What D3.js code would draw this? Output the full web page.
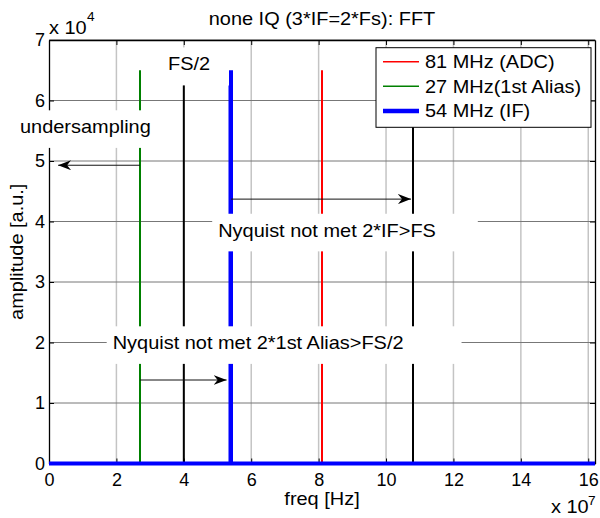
<!DOCTYPE html>
<html>
<head>
<meta charset="utf-8">
<script src="https://cdn.jsdelivr.net/npm/d3@7"></script>
<style>
  body { margin: 0; background: #fff; }
  svg { display: block; }
  text { font-family: "Liberation Sans", Arial, Helvetica, sans-serif; fill: #000; }
</style>
</head>
<body>
<div id="chart"></div>
<script>
// none IQ (3*IF=2*Fs): FFT

// axis ticks
const xTicks = [0, 2e7, 4e7, 6e7, 8e7, 10e7, 12e7, 14e7, 16e7];
const xTickLabels = ["0", "2", "4", "6", "8", "10", "12", "14", "16"];
const yTicks = [0, 1e4, 2e4, 3e4, 4e4, 5e4, 6e4, 7e4];
const yTickLabels = ["0", "1", "2", "3", "4", "5", "6", "7"];
const xMax = 1.62e8;
const yMax = 7e4;

// legend series (peak bins of each spectrum)
const seriesNames = ["81 MHz (ADC)", "27 MHz(1st Alias)", "54 MHz (IF)"];
const seriesColors = ["#ff0000", "#008000", "#0000ff"];
const seriesWidths = [2, 2, 4];
const adcBins = [8.1e7];
const adcAmps = [6.5e4];
const aliasBins = [2.7e7];
const aliasAmps = [6.5e4];
const ifBins = [5.385e7, 5.4e7];
const ifAmps = [6.25e4, 6.5e4];

// black reference lines (FS/2 and 2*IF)
const refBins = [4.0e7, 10.8e7];
const refAmps = [6.25e4, 6.25e4];

// annotations: text left edge / baseline in data units
const noteTexts = ["undersampling", "FS/2", "Nyquist not met 2*IF>FS", "Nyquist not met 2*1st Alias>FS/2"];
const noteX = [-0.86e7, 3.53e7, 5.02e7, 1.89e7];
const noteY = [5.46e4, 6.5e4, 3.75e4, 1.89e4];

// arrows: start -> tip in data units
const arrowFrom = [[2.7e7, 4.93e4], [5.4e7, 4.37e4], [2.7e7, 1.38e4]];
const arrowTo = [[0.27e7, 4.93e4], [10.74e7, 4.37e4], [5.27e7, 1.38e4]];

const W = 600, H = 518;
const mLeft = 49, mRight = 595, mTop = 40, mBottom = 463.5;
const fs = 17.5, sx = 1.14;

const x = d3.scaleLinear().domain([0, xMax]).range([mLeft, mRight]);
const y = d3.scaleLinear().domain([0, yMax]).range([mBottom, mTop]);

const svg = d3.select("#chart").append("svg")
  .attr("width", W)
  .attr("height", H);

svg.append("defs").append("marker")
    .attr("id", "head")
    .attr("viewBox", "-13 -5 13 10")
    .attr("refX", 0)
    .attr("refY", 0)
    .attr("markerWidth", 13)
    .attr("markerHeight", 10)
    .attr("markerUnits", "userSpaceOnUse")
    .attr("orient", "auto")
  .append("path")
    .attr("d", "M0,0L-13,-5L-9,0L-13,5Z")
    .attr("fill", "#000");

function label(g, str, px, py, anchor, size, rot) {
  return g.append("text")
    .attr("transform", `translate(${px},${py})` + (rot ? ` rotate(${rot})` : "") + ` scale(${sx},1)`)
    .attr("text-anchor", anchor || "start")
    .style("font-size", (size || fs) + "px")
    .text(str);
}

// grid
svg.append("g")
  .selectAll("line")
  .data(xTicks.slice(1))
  .join("line")
    .attr("x1", d => x(d)).attr("x2", d => x(d))
    .attr("y1", mTop).attr("y2", mBottom)
    .attr("stroke", "#c4c4c4")
    .attr("stroke-width", 1.5);

svg.append("g")
  .selectAll("line")
  .data(yTicks.slice(1))
  .join("line")
    .attr("x1", mLeft).attr("x2", mRight)
    .attr("y1", d => y(d)).attr("y2", d => y(d))
    .attr("stroke", "#777")
    .attr("stroke-width", 1);

// axes (inward ticks, MATLAB box)
svg.append("g").attr("transform", `translate(${mLeft},0)`)
  .call(d3.axisLeft(y).tickValues(yTicks).tickFormat((d, i) => yTickLabels[i])
    .tickSizeInner(-5).tickSizeOuter(0).tickPadding(4));
svg.append("g").attr("transform", `translate(0,${mBottom})`)
  .call(d3.axisBottom(x).tickValues(xTicks).tickFormat((d, i) => xTickLabels[i])
    .tickSizeInner(-5).tickSizeOuter(0).tickPadding(10));
svg.append("g").attr("transform", `translate(${mRight},0)`)
  .call(d3.axisRight(y).tickValues(yTicks).tickFormat("").tickSizeInner(-5).tickSizeOuter(0));
svg.append("g").attr("transform", `translate(0,${mTop})`)
  .call(d3.axisTop(x).tickValues(xTicks).tickFormat("").tickSizeInner(-5).tickSizeOuter(0));

svg.selectAll(".domain").attr("stroke", "#000").attr("stroke-width", 1.3);
svg.selectAll(".tick line").attr("stroke", "#000").attr("stroke-width", 1);
svg.selectAll(".tick text")
  .style("font-size", "18px")
  .style("font-family", "\"Liberation Sans\", Arial, sans-serif")
  .attr("fill", "#000");

// spectra
const line = d3.line().x(d => x(d[0])).y(d => y(d[1]));

function spectrum(bins, amps) {
  const pts = [[0, 0]];
  bins.forEach((f, i) => { pts.push([f, 0], [f, amps[i]], [f, 0]); });
  pts.push([xMax, 0]);
  return pts;
}

svg.append("g")
  .selectAll("path")
  .data(refBins.map((f, i) => [[f, 0], [f, refAmps[i]]]))
  .join("path")
    .attr("d", line)
    .attr("fill", "none")
    .attr("stroke", "#000")
    .attr("stroke-width", 2);

const series = [spectrum(adcBins, adcAmps), spectrum(aliasBins, aliasAmps), spectrum(ifBins, ifAmps)];

svg.append("g")
  .selectAll("path")
  .data(series)
  .join("path")
    .attr("d", line)
    .attr("fill", "none")
    .attr("stroke", (d, i) => seriesColors[i])
    .attr("stroke-width", (d, i) => seriesWidths[i])
    .attr("stroke-linejoin", "miter");

// text boxes with white background
const notes = svg.append("g");
noteTexts.forEach((t, i) => {
  const g = notes.append("g");
  const txt = label(g, t, x(noteX[i]), y(noteY[i]), "start");
  const bb = txt.node().getBBox();
  g.insert("rect", "text")
    .attr("x", x(noteX[i]) - 6)
    .attr("y", y(noteY[i]) + bb.y - 7)
    .attr("width", bb.width * sx * 1.22)
    .attr("height", bb.height + 18)
    .attr("fill", "#fff");
});

// arrows
svg.append("g")
  .selectAll("line")
  .data(arrowFrom)
  .join("line")
    .attr("x1", d => x(d[0])).attr("y1", d => y(d[1]))
    .attr("x2", (d, i) => x(arrowTo[i][0])).attr("y2", (d, i) => y(arrowTo[i][1]))
    .attr("stroke", "#111")
    .attr("stroke-width", 1)
    .attr("marker-end", "url(#head)");

// legend
const lg = svg.append("g").attr("transform", `translate(${mRight - 219},${mTop + 7.7})`);
lg.append("rect")
  .attr("width", 215).attr("height", 79.6)
  .attr("fill", "#fff").attr("stroke", "#000").attr("stroke-width", 1);
seriesNames.forEach((name, i) => {
  const yy = 14 + i * 24.6;
  lg.append("line")
    .attr("x1", 7).attr("x2", 43).attr("y1", yy).attr("y2", yy)
    .attr("stroke", seriesColors[i]).attr("stroke-width", seriesWidths[i] === 2 ? 1.5 : 4.5);
  label(lg, name, 49, yy + 6.3, "start");
});

// titles and exponents
label(svg, "none IQ (3*IF=2*Fs): FFT", (mLeft + mRight) / 2, 25, "middle");
label(svg, "freq [Hz]", (mLeft + mRight) / 2, 505, "middle");
label(svg, "amplitude [a.u.]", 23, (mTop + mBottom) / 2, "middle", fs, -90);
label(svg, "x 10", mLeft, 34, "start");
label(svg, "4", mLeft + 38, 21, "start", 12);
label(svg, "x 10", 551, 513, "start");
label(svg, "7", 588, 505, "start", 12);
</script>
</body>
</html>
